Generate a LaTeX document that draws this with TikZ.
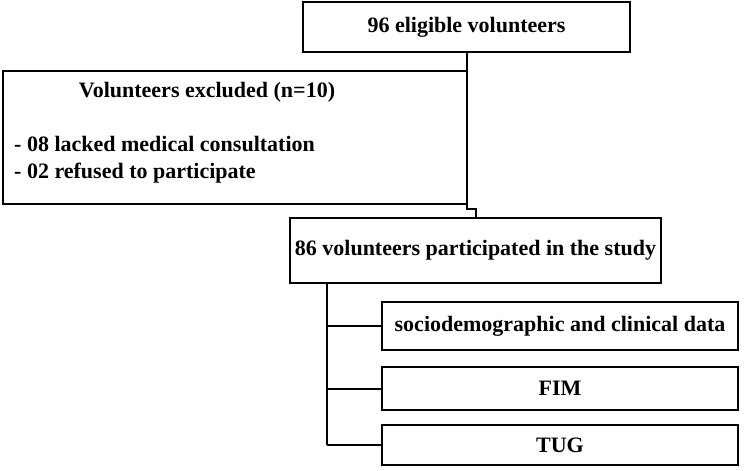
\documentclass[tikz,border=0pt]{standalone}
\usepackage{fontspec}
\setmainfont{Liberation Serif}
\tikzset{
  box/.style={draw, line width=2pt, inner sep=0pt,
    font=\bfseries\fontsize{22}{27}\selectfont},
  txt/.style={inner sep=0pt, font=\bfseries\fontsize{22}{27}\selectfont},
  link/.style={line width=2pt},
}
\begin{document}
\begin{tikzpicture}[x=1pt,y=-1pt]
  \useasboundingbox (0,0) rectangle (748,471);
  % enrolment
  \node[box, minimum width=327pt, minimum height=50pt] (eligible) at (466.5,27) {96 eligible volunteers};
  \node[box, minimum width=464pt, minimum height=133pt] (excluded) at (235,137.5) {};
  \node[txt] (exctitle) at (207,92) {Volunteers excluded (n=10)};
  \node[txt, anchor=west, align=left] (exclist) at (14,159.5)
    {- 08 lacked medical consultation\\- 02 refused to participate};
  \node[box, minimum width=371pt, minimum height=65pt] (part) at (475.5,250.5) {86 volunteers participated in the study};
  % instruments
  \node[box, minimum width=356pt, minimum height=48pt] (socio) at (560,326) {sociodemographic and clinical data};
  \node[box, minimum width=356pt, minimum height=43pt] (fim) at (560,388.5) {FIM};
  \node[box, minimum width=356pt, minimum height=40pt] (tug) at (560,445) {TUG};
  % connectors
  \coordinate (bend) at (466.5,209);
  \draw[link] (eligible.south) -- (bend) -| (part.north);
  \coordinate (spine) at (327,283);
  \draw[link] (spine) -- (spine |- tug.west);
  \foreach \n in {socio,fim,tug}
    \draw[link] (spine |- \n.west) -- (\n.west);
\end{tikzpicture}
\end{document}
